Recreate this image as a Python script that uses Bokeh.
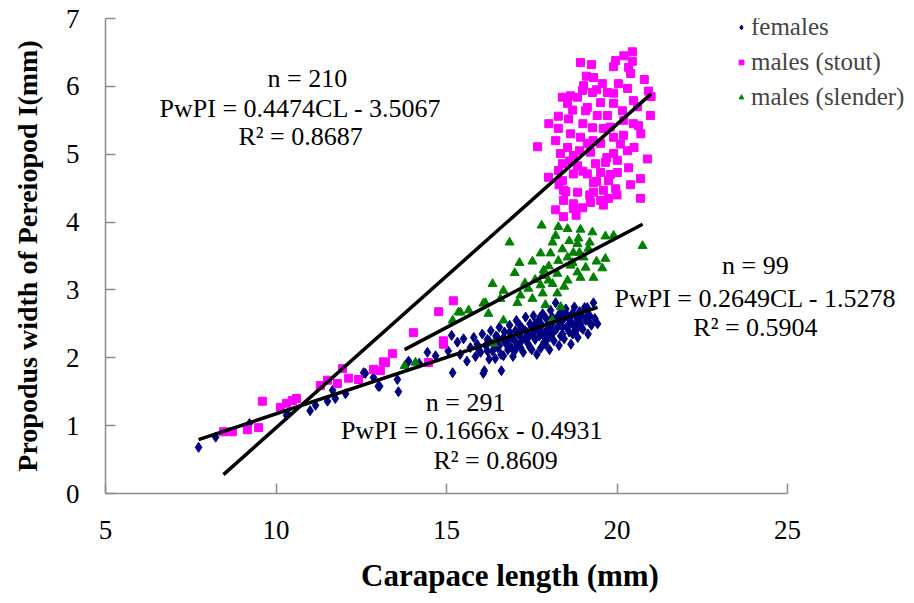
from bokeh.plotting import figure
from bokeh.models import Range1d, Label, Legend, LegendItem, FixedTicker
from bokeh.embed import file_html
from bokeh.resources import INLINE

# ---------------- data ----------------
females_x = [7.73, 8.23, 9.22, 10.31, 10.34, 11.0, 11.16, 11.51, 11.66, 11.74, 12.04, 12.57, 12.62,
             12.86, 13.0, 13.04, 13.56, 13.59, 13.86, 13.89, 14.2, 14.44, 14.68, 15.15, 15.18, 15.32,
             15.05, 15.4, 15.5, 15.6, 15.7, 15.8, 15.85, 15.9, 16.0, 16.08, 16.11, 16.05, 16.15, 16.2,
             16.25, 16.3, 16.35, 16.4, 16.43, 16.45, 16.5, 16.55, 16.6, 16.61, 16.65, 16.67, 16.7, 16.75,
             16.8, 16.85, 16.9, 16.95, 17.0, 17.02, 17.05, 17.1, 17.15, 17.17, 17.2, 17.25, 17.3, 17.32,
             17.35, 17.4, 17.45, 17.5, 17.52, 17.55, 17.6, 17.62, 17.65, 17.7, 17.72, 17.76, 17.8, 17.82,
             17.85, 17.9, 17.92, 17.95, 18.0, 18.02, 18.05, 18.1, 18.12, 18.15, 18.2, 18.22, 18.25, 18.3,
             18.32, 18.35, 18.4, 18.42, 18.45, 18.5, 18.52, 18.55, 18.6, 18.62, 18.65, 18.7, 18.72, 18.75,
             18.8, 18.82, 18.85, 18.9, 18.92, 18.95, 19.0, 19.05, 19.08, 19.13, 19.15, 19.2, 19.25, 19.31,
             19.35, 19.43,
             16.2, 16.5, 16.8, 17.0, 17.3, 17.6, 17.9, 18.1, 18.4, 18.7, 17.1, 17.4, 17.7, 18.0, 18.3,
             18.6, 16.9, 17.2, 17.5, 17.8, 18.1, 18.4, 18.8, 19.1, 15.95, 16.25, 16.55, 16.85, 17.15,
             17.45, 17.75, 18.05, 18.35, 18.65, 18.95, 19.2]
females_y = [0.68, 0.83, 1.03, 1.15, 1.18, 1.22, 1.30, 1.36, 1.52, 1.40, 1.47, 1.78, 1.77,
             1.71, 1.58, 1.58, 1.68, 1.50, 1.93, 1.95, 1.92, 2.08, 2.03, 2.33, 1.78, 2.23,
             2.10, 2.05, 2.28, 1.95, 2.15, 2.30, 2.02, 2.20, 2.08, 1.77, 1.81, 2.35, 2.18, 2.27,
             1.98, 2.40, 2.10, 2.22, 1.99, 2.32, 2.15, 2.45, 2.05, 1.81, 2.28, 2.03, 2.38, 2.20,
             2.12, 2.48, 2.30, 2.02, 2.25, 2.40, 2.55, 2.18, 2.33, 2.15, 2.45, 2.08, 2.28, 2.60,
             2.38, 2.20, 2.50, 2.12, 2.35, 2.62, 2.27, 2.42, 2.05, 2.55, 2.32, 2.14, 2.48, 2.65,
             2.22, 2.38, 2.58, 2.30, 2.45, 2.12, 2.70, 2.35, 2.52, 2.25, 2.81, 2.42, 2.60, 2.18,
             2.50, 2.68, 2.35, 2.56, 2.28, 2.72, 2.45, 2.62, 2.38, 2.55, 2.20, 2.66, 2.48, 2.75,
             2.40, 2.58, 2.30, 2.68, 2.50, 2.62, 2.42, 2.74, 2.55, 2.74, 2.35, 2.62, 2.48, 2.81,
             2.58, 2.50,
             2.10, 2.30, 2.25, 2.10, 2.40, 2.50, 2.20, 2.60, 2.45, 2.35, 2.35, 2.30, 2.40, 2.30, 2.55,
             2.50, 2.15, 2.25, 2.45, 2.35, 2.40, 2.65, 2.48, 2.60, 2.12, 2.25, 2.18, 2.38, 2.48,
             2.15, 2.60, 2.50, 2.32, 2.62, 2.45, 2.52]

stout_x = [8.46, 8.72, 9.16, 9.49, 9.60, 10.13, 10.31, 10.48, 10.60, 11.30, 11.51, 11.80, 11.95,
           12.13, 12.42, 12.86, 13.06, 13.15, 13.21, 13.42, 14.03, 14.47, 14.77, 14.91, 14.91, 15.2,
           20.45, 20.45, 19.96, 19.9, 18.93, 19.25, 20.34, 20.4, 19.31, 19.02, 18.99, 19.57, 20.04,
           20.31, 20.92, 20.98, 18.4, 18.64, 18.84, 19.28, 19.72, 18.55, 19.13, 19.52, 19.9, 20.48,
           18.28, 18.58, 19.08, 19.42, 19.72, 20.16, 20.48, 20.63, 18.28, 19.28, 19.6, 18.64, 18.93,
           17.67, 18.55, 19.13, 19.52, 19.9, 20.19, 18.34, 18.72, 19.22, 19.9, 20.31, 20.89, 18.4,
           18.84, 19.37, 19.66, 20.01, 20.34, 18.28, 18.72, 19.13, 19.52, 20.01, 17.99, 18.4, 19.31,
           19.75, 20.69, 18.43, 18.84, 19.31, 19.6, 19.96, 18.43, 18.72, 19.22, 19.52, 19.75, 20.69,
           18.2, 18.72, 18.99, 18.43,
           18.7, 19.0, 19.4, 19.8, 20.2, 18.9, 19.3, 19.7, 20.1, 18.6, 19.0, 19.4, 19.8, 20.4, 18.5,
           19.2, 19.6, 20.0, 18.8, 19.9, 20.6, 20.8, 20.2, 19.1, 18.2, 18.0, 18.3, 20.5, 20.7, 21.0]
stout_y = [0.91, 0.91, 0.94, 0.97, 1.36, 1.27, 1.33, 1.37, 1.40, 1.59, 1.67, 1.62, 1.84,
           1.70, 1.68, 1.83, 1.81, 1.94, 1.93, 2.06, 2.37, 1.93, 2.68, 2.25, 2.20, 2.84,
           6.51, 6.37, 6.38, 6.29, 6.35, 6.32, 6.28, 6.19, 6.13, 6.01, 5.94, 6.04, 6.04,
           5.97, 5.93, 5.57, 5.84, 5.86, 5.84, 5.91, 5.91, 5.75, 5.69, 5.76, 5.75, 5.79,
           5.56, 5.52, 5.64, 5.57, 5.57, 5.64, 5.45, 5.42, 5.38, 5.39, 5.38, 5.30, 5.25,
           5.11, 5.10, 5.16, 5.16, 5.25, 5.28, 5.01, 4.98, 5.03, 5.01, 5.05, 4.93, 4.86,
           4.83, 4.86, 4.88, 4.91, 4.80, 4.76, 4.71, 4.71, 4.73, 4.73, 4.66, 4.61, 4.58,
           4.61, 4.64, 4.47, 4.44, 4.44, 4.47, 4.49, 4.32, 4.27, 4.29, 4.32, 4.35, 4.35,
           4.18, 4.20, 4.21, 4.08,
           5.65, 5.45, 5.95, 5.40, 5.50, 5.05, 5.20, 4.95, 5.15, 4.90, 4.75, 4.60, 4.70, 4.55, 4.45,
           4.40, 4.25, 4.40, 4.10, 5.90, 5.70, 6.10, 6.45, 6.15, 5.20, 5.45, 4.55, 5.10, 5.30, 5.85]

slender_x = [13.77, 14.09, 15.18, 15.35, 15.41, 15.65, 16.08, 16.14, 16.23, 16.35, 16.38, 16.58,
             16.67, 16.67, 16.85, 17.08, 17.14, 17.17, 17.4, 17.52, 17.52, 17.76, 17.76, 17.79,
             17.82, 17.82, 17.85, 17.99, 18.05, 18.1, 18.11, 18.11, 18.25, 18.25, 18.28, 18.28,
             18.55, 18.55, 18.55, 18.64, 18.72, 18.84, 18.84, 18.87, 18.93, 18.93, 19.02, 19.08,
             19.16, 19.28, 19.31, 19.57, 19.66, 19.66, 19.9, 20.75,
             18.4, 18.7, 18.0, 17.6, 18.9, 19.2, 18.45, 17.3, 17.0, 18.2, 19.4, 18.6, 17.9, 18.35]
slender_y = [1.88, 1.93, 2.55, 2.67, 2.67, 2.70, 2.80, 2.81, 2.65, 3.09, 2.21, 2.87,
             2.99, 2.55, 3.70, 2.81, 3.40, 2.92, 3.02, 3.42, 2.87, 3.54, 3.07, 3.95,
             3.21, 2.95, 3.29, 3.14, 3.54, 2.55, 3.70, 3.09, 3.24, 2.95, 3.93, 3.43,
             3.90, 3.48, 3.14, 3.36, 3.55, 3.68, 3.26, 3.76, 3.89, 3.18, 3.48, 3.33,
             3.61, 3.85, 3.18, 3.32, 3.79, 3.46, 3.80, 3.65,
             3.60, 3.40, 3.35, 3.15, 3.55, 3.70, 3.05, 3.10, 3.25, 3.80, 3.42, 3.72, 2.78, 2.75]

# regression equations (slope, intercept) as printed on the chart
fit_stout = (0.4474, -3.5067)
fit_slender = (0.2649, -1.5278)
fit_females = (0.1666, -0.4931)

series_labels = ["females", "males (stout)", "males (slender)"]
x_ticks = [5, 10, 15, 20, 25]
y_ticks = [0, 1, 2, 3, 4, 5, 6, 7]

annotations = [
    ("n = 210", 10.92, 6.12),
    ("PwPI = 0.4474CL - 3.5067", 10.72, 5.67),
    ("R² = 0.8687", 10.72, 5.26),
    ("n = 99", 24.06, 3.36),
    ("PwPI = 0.2649CL - 1.5278", 24.06, 2.87),
    ("R² = 0.5904", 24.06, 2.45),
    ("n = 291", 15.56, 1.34),
    ("PwPI = 0.1666x - 0.4931", 15.74, 0.93),
    ("R² = 0.8609", 16.44, 0.49),
]

# ---------------- figure ----------------
SERIF = "Liberation Serif"
WIDTH = 914
LEFT = 105
AXIS_W = 682           # pixel length of the 5..25 axis
FRAME_W = WIDTH - LEFT  # plot area continues right of the x axis end (25)
x_end = 5 + FRAME_W * 20 / AXIS_W
y_end = 7.0

p = figure(width=WIDTH, height=598, output_backend="svg", toolbar_location=None,
           x_range=Range1d(5, x_end), y_range=Range1d(0, y_end),
           min_border_left=LEFT, min_border_right=0, min_border_top=18, min_border_bottom=105)
p.outline_line_color = None
p.xgrid.visible = False
p.ygrid.visible = False
p.background_fill_color = "white"

for ax in (p.xaxis[0], p.yaxis[0]):
    ax.axis_line_color = "#8c8c8c"
    ax.axis_line_width = 1.5
    ax.major_tick_line_color = "#8c8c8c"
    ax.major_tick_line_width = 1.5
    ax.major_tick_in = 10
    ax.major_tick_out = 0
    ax.minor_tick_line_color = None
    ax.major_label_text_font = SERIF
    ax.major_label_text_font_size = "27px"
    ax.major_label_text_color = "black"
    ax.axis_label_text_font = SERIF
    ax.axis_label_text_font_style = "bold"
    ax.axis_label_text_color = "black"

p.xaxis.bounds = (5, 25)
p.yaxis.bounds = (0, 7)
p.xaxis.ticker = FixedTicker(ticks=x_ticks)
p.yaxis.ticker = FixedTicker(ticks=y_ticks)
p.xaxis.axis_label = "Carapace length (mm)"
p.yaxis.axis_label = "Propodus width of Pereiopod I(mm)"
p.xaxis.axis_label_text_font_size = "31px"
p.yaxis.axis_label_text_font_size = "28px"
p.xaxis.major_label_standoff = 27
p.yaxis.major_label_standoff = 26
p.xaxis.axis_label_standoff = 16
p.yaxis.axis_label_standoff = 20

r_f = p.scatter(females_x, females_y, marker="diamond", size=10, color="#000080")
r_s = p.scatter(stout_x, stout_y, marker="square", size=8, color="#FF00FF")
r_g = p.scatter(slender_x, slender_y, marker="triangle", size=9, color="#008000")

def fit_line(xs, fit):
    x0, x1 = min(xs), max(xs)
    return [x0, x1], [fit[0] * x0 + fit[1], fit[0] * x1 + fit[1]]

for xs, fit in ((stout_x, fit_stout), (slender_x, fit_slender), (females_x, fit_females)):
    lx, ly = fit_line(xs, fit)
    p.line(lx, ly, line_color="black", line_width=3.5)

for txt, tx, ty in annotations:
    p.add_layout(Label(x=tx, y=ty, text=txt, text_align="center", text_baseline="middle",
                       text_font=SERIF, text_font_size="26px", text_color="black"))

legend = Legend(items=[LegendItem(label=series_labels[0], renderers=[r_f]),
                       LegendItem(label=series_labels[1], renderers=[r_s]),
                       LegendItem(label=series_labels[2], renderers=[r_g])],
                location=(630, 382), padding=0, margin=0, spacing=7,
                glyph_width=12, glyph_height=20, label_standoff=4,
                label_text_font=SERIF, label_text_font_size="25px",
                border_line_color=None, background_fill_alpha=0)
p.add_layout(legend, "center")

open("out.html", "w").write(file_html(p, INLINE))
